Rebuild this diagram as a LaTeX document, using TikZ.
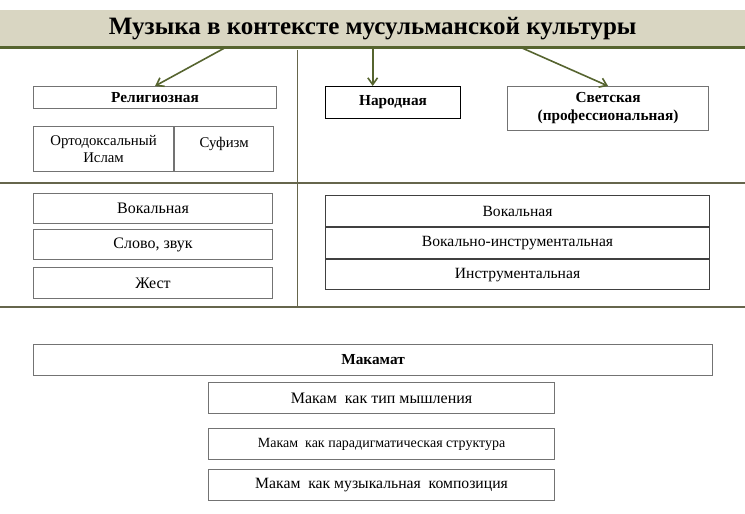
\documentclass[tikz,border=0pt]{standalone}
\usepackage{fontspec}
\setmainfont{Liberation Serif}
\usetikzlibrary{arrows.meta,positioning}
\definecolor{olive}{HTML}{56642F}
\definecolor{banner}{HTML}{D9D6C2}
\definecolor{rule}{HTML}{66664C}

\begin{document}
\begin{tikzpicture}[x=1pt, y=-1pt, >={Straight Barb[length=2.4mm,width=3.4mm,line width=1.6pt]},
  bx/.style={rectangle, draw=gray!90!black, line width=1.1pt, fill=white, inner sep=2pt,
    font=\fontsize{16}{18}\selectfont, align=center},
  bbx/.style={bx, font=\fontsize{15.3}{18}\selectfont\bfseries},
  mbx/.style={bx, minimum width=346pt, minimum height=31pt, anchor=north west},
  arr/.style={->, draw=olive, line width=1.6pt}]
  \useasboundingbox (0,0) rectangle (745,514);
  \node[fill=banner, minimum width=745pt, minimum height=37pt, inner sep=0pt, anchor=north west,
    font=\fontsize{25}{28}\selectfont\bfseries] (title) at (0,10) {Музыка в контексте мусульманской культуры};
  \draw[olive, line width=3.5pt] (title.south west) -- (title.south east);
  \draw[rule, line width=1pt] (297,50) -- (297,307);
  \draw[rule, line width=1.2pt] (0,183) -- (745,183);
  \draw[rule, line width=1.2pt] (0,307) -- (745,307);

  \node[bbx, minimum width=243pt, minimum height=22pt, anchor=north west] (relig) at (33,86) {Религиозная};
  \node[bx, minimum width=140pt, minimum height=45pt, anchor=north west,
    font=\fontsize{14.8}{17}\selectfont] (ortho) at (33,126) {Ортодоксальный\\Ислам};
  \node[bx, minimum width=99pt, minimum height=45pt, anchor=north west, text depth=14pt,
    font=\fontsize{14.8}{17}\selectfont] (sufi) at (ortho.north east) {Суфизм};
  \node[bbx, draw=black, minimum width=135pt, minimum height=32pt, anchor=north west] (folk) at (325,86) {Народная};
  \node[bbx, minimum width=201pt, minimum height=44pt, anchor=north west] (secular) at (507,86) {Светская\\(профессиональная)};

  \draw[arr] ([xshift=-147pt]title.south) -- (relig.north);
  \draw[arr] (title.south) -- (title.south |- folk.north);
  \draw[arr] ([xshift=148pt]title.south) -- (secular.north);

  \node[bx, minimum width=239pt, minimum height=30pt, anchor=north west] (lvoc) at (33,193) {Вокальная};
  \node[bx, minimum width=239pt, minimum height=30pt, below=5pt of lvoc] (lword) {Слово, звук};
  \node[bx, minimum width=239pt, minimum height=31pt, below=7pt of lword] (lgest) {Жест};

  \node[bx, draw=black!75, minimum width=384pt, minimum height=31pt, anchor=north west,
    font=\fontsize{15.6}{18}\selectfont] (rvoc) at (325,195) {Вокальная};
  \node[bx, draw=black!75, minimum width=384pt, minimum height=31pt, below=0pt of rvoc,
    font=\fontsize{15.6}{18}\selectfont] (rvocins) {Вокально-инструментальная};
  \node[bx, draw=black!75, minimum width=384pt, minimum height=30pt, below=0pt of rvocins,
    font=\fontsize{15.6}{18}\selectfont] (rins) {Инструментальная};

  \node[bbx, minimum width=679pt, minimum height=31pt, anchor=north west] (maqamat) at (33,344) {Макамат};
  \node[mbx, font=\fontsize{16}{18}\selectfont] (mthink) at (208,382) {Макам\ \ как тип мышления};
  \node[mbx, font=\fontsize{14}{16}\selectfont] (mstruct) at (208,428) {Макам\ \ как парадигматическая структура};
  \node[mbx, font=\fontsize{15.7}{18}\selectfont] (mcomp) at (208,469) {Макам\ \ как музыкальная\ \ композиция};
\end{tikzpicture}
\end{document}
